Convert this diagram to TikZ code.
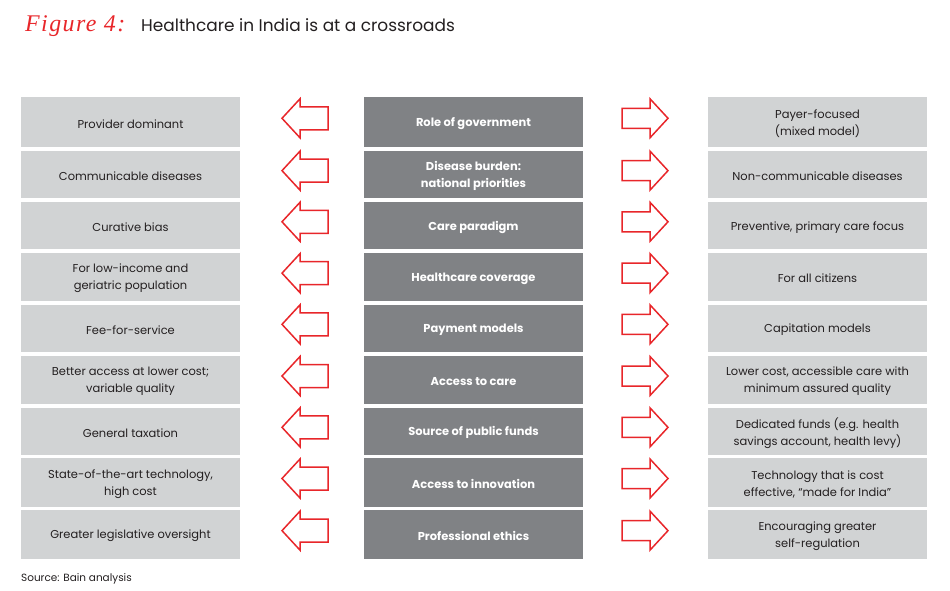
\documentclass[tikz,border=0pt]{standalone}
\usepackage{fontspec}
\setmainfont{Poppins}
\newfontfamily\scriptfnt[LetterSpace=6]{Liberation Serif}
\definecolor{lgray}{HTML}{D1D3D4}
\definecolor{dgray}{HTML}{808285}
\definecolor{txt}{HTML}{231F20}
\definecolor{bred}{HTML}{E8262A}
\begin{document}
\begin{tikzpicture}[x=1bp,y=-1bp,
  box/.style={draw=none,minimum width=219bp,inner sep=0pt},
  sidebox/.style={box,fill=lgray},
  midbox/.style={box,fill=dgray},
  sidetext/.style={inner sep=0pt,align=center,font=\fontsize{11.5}{17}\selectfont,text=txt},
  midtext/.style={inner sep=0pt,align=center,font=\fontsize{11.5}{16.5}\selectfont\bfseries,text=white},
  arr/.style={draw=bred,line width=1.5bp,fill=white,line join=miter}]
\useasboundingbox (0,0) rectangle (950,591);
\node[anchor=base west,inner sep=0pt,text=bred,font=\scriptfnt\itshape\fontsize{24}{24}\selectfont] (fig) at (25,32) {Figure 4:};
\node[anchor=base west,inner sep=0pt,text=txt,font=\fontsize{17}{20}\selectfont] (title) at (141,32) {Healthcare in India is at a crossroads};
\foreach \t/\b/\l/\m/\r [count=\i] in {
  97.3/147.3/{Provider dominant}/{Role of government}/{Payer-focused\\(mixed model)},
  151/198.3/{Communicable diseases}/{Disease burden:\\national priorities}/{Non-communicable diseases},
  202.3/249.3/{Curative bias}/{Care paradigm}/{Preventive, primary care focus},
  253.3/301/{For low-income and\\geriatric population}/{Healthcare coverage}/{For all citizens},
  305/351.7/{Fee-for-service}/{Payment models}/{Capitation models},
  356/404/{Better access at lower cost;\\variable quality}/{Access to care}/{Lower cost, accessible care with\\minimum assured quality},
  407.7/455/{General taxation}/{Source of public funds}/{Dedicated funds (e.g. health\\savings account, health levy)},
  458.3/506.7/{State-of-the-art technology,\\high cost}/{Access to innovation}/{Technology that is cost\\effective, “made for India”},
  510/559.3/{Greater legislative oversight}/{Professional ethics}/{Encouraging greater\\self-regulation}}
{
  \pgfmathsetmacro\yc{(\t+\b)/2}
  \pgfmathsetmacro\hh{\b-\t}
  \pgfmathsetmacro\cy{\yc-4}
  \node[sidebox,minimum height=\hh bp] (L\i) at (130.5,\yc) {};
  \node[midbox,minimum height=\hh bp] (M\i) at (473.5,\yc) {};
  \node[sidebox,minimum height=\hh bp] (R\i) at (817.5,\yc) {};
  \node[sidetext] (Lt\i) at ([yshift=-1.5bp]L\i.center) {\l};
  \node[midtext] (Mt\i) at ([yshift=-1.5bp]M\i.center) {\m};
  \node[sidetext] (Rt\i) at ([yshift=-1.5bp]R\i.center) {\r};
  \draw[arr] (282,\cy) -- (300,\cy-19.5) -- (300,\cy-11.5) -- (328,\cy-11.5) -- (328,\cy+11.5)
    -- (300,\cy+11.5) -- (300,\cy+19.5) -- cycle;
  \draw[arr] (622,\cy-10) -- (650,\cy-10) -- (650,\cy-19.5) -- (668,\cy) -- (650,\cy+19.5)
    -- (650,\cy+10) -- (622,\cy+10) -- cycle;
}
\node[anchor=base west,inner sep=0pt,text=txt,font=\fontsize{10.5}{12}\selectfont] (src) at (21,581) {Source: Bain analysis};
\end{tikzpicture}
\end{document}
